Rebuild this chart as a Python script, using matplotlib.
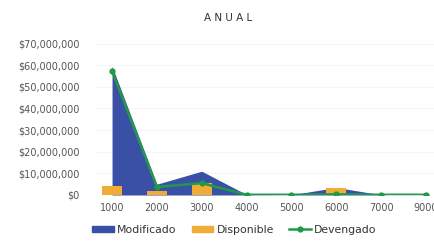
import numpy as np
import matplotlib.pyplot as plt
from matplotlib.lines import Line2D
from matplotlib.patches import Patch

# datos
categorias = ['1000', '2000', '3000', '4000', '5000', '6000', '7000', '9000']
modificado = [59.5e6, 5.0e6, 11.0e6, 0.2e6, 0.1e6, 3.5e6, 0.1e6, 0.1e6]
disponible = [4.2e6, 1.8e6, 5.5e6, 0.1e6, 0.0, 3.2e6, 0.0, 0.0]
devengado = [57.3e6, 3.7e6, 5.5e6, 0.1e6, 0.1e6, 0.3e6, 0.1e6, 0.1e6]
yticks = np.arange(0, 70e6 + 1, 10e6)

azul = '#3a4fa6'
naranja = '#f0ac35'
verde = '#1f9a48'
gris = '#555555'

fig = plt.figure(figsize=(4.34, 2.41), dpi=100)
ax = fig.add_axes([95/434, 46/241, (434-95)/434, (195-43.5)/241])
ax.set_axisbelow(True)

x = np.arange(len(categorias))
ax.fill_between(x, 0, modificado, color=azul, lw=0, zorder=1)
ax.bar(x, disponible, width=0.45, color=naranja, zorder=2)
ax.plot(x, devengado, color=verde, lw=1.8, marker='o', ms=3.5, zorder=3)
ax.axhline(0, color='#d8cfe0', lw=0.6, zorder=0.5)

ax.set_xlim(-0.38, 7.18)
ax.set_ylim(0, 70e6)
ax.set_xticks(x)
ax.set_xticklabels(categorias)
ax.set_yticks(yticks)
ax.set_yticklabels(['${:,.0f}'.format(v) for v in yticks])
ax.tick_params(length=0, labelsize=7, colors=gris)
ax.tick_params(axis='y', pad=11)
ax.tick_params(axis='x', pad=6)
ax.grid(axis='y', color='#f4f4f4', lw=0.6)
for s in ax.spines.values():
    s.set_visible(False)

fig.text(0.525, 0.925, 'A N U A L', ha='center', va='center', fontsize=7.5, color='#333333')

handles = [Patch(color=azul), Patch(color=naranja),
           Line2D([], [], color=verde, lw=1.8, marker='o', ms=3.5)]
fig.legend(handles, ['Modificado', 'Disponible', 'Devengado'], loc='lower center',
           bbox_to_anchor=(0.54, -0.015), ncol=3, frameon=False, fontsize=7.8,
           handlelength=2.0, handleheight=0.5, columnspacing=1.4, handletextpad=0.3,
           labelcolor='#333333')

plt.savefig('out.png', dpi=100, facecolor='w')
